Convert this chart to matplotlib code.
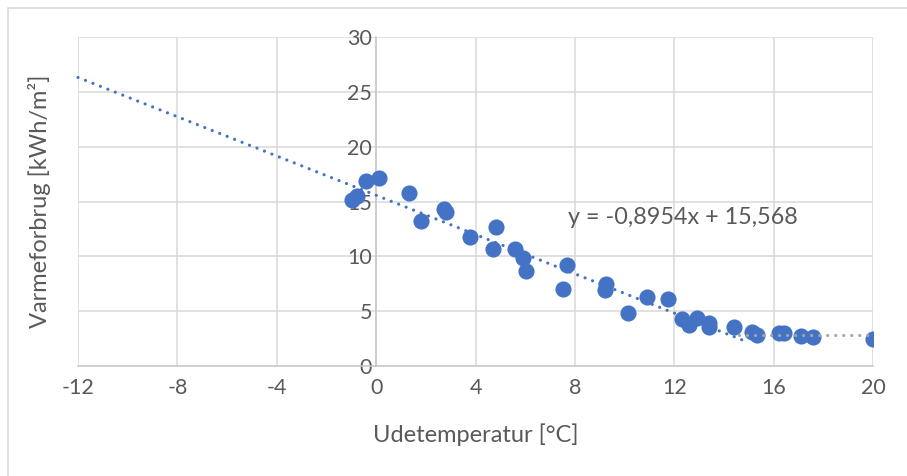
import matplotlib.pyplot as plt
from matplotlib.patches import Rectangle

# udetemperatur [C] og varmeforbrug [kWh/m2], aflaest fra figuren
temp = [-0.98, -0.76, -0.40, 0.12, 1.33, 1.81, 2.74, 2.82, 3.78, 4.82,
        4.71, 5.60, 5.91, 6.03, 7.69, 7.51, 9.25, 9.22, 10.14, 10.92,
        11.73, 12.31, 12.60, 12.90, 13.40, 13.40, 14.40, 15.12, 15.33,
        16.22, 16.42, 17.10, 17.60, 20.00]
varme = [15.1, 15.5, 16.9, 17.1, 15.8, 13.2, 14.3, 14.05, 11.8, 12.7,
         10.7, 10.67, 9.87, 8.69, 9.21, 7.0, 7.5, 6.9, 4.8, 6.26,
         6.08, 4.26, 3.73, 4.40, 3.94, 3.58, 3.6, 3.1, 2.8,
         3.0, 3.0, 2.73, 2.64, 2.43]

# lineaer trendlinie
slope = -0.8954
intercept = 15.568
trend_x = [-12, 15.0]

# graa trendlinie for de varme dage
warm_x = [14.6, 20]
warm_level = 2.8

xticks = [-12, -8, -4, 0, 4, 8, 12, 16, 20]
yticks = [0, 5, 10, 15, 20, 25, 30]

blue = '#4472C4'
grey_txt = '#595959'
grid_c = '#D9D9D9'

plt.rcParams['font.family'] = ['Lato', 'DejaVu Sans']
plt.rcParams['axes.unicode_minus'] = False

fig = plt.figure(figsize=(9.07, 4.76), dpi=100)
ax = fig.add_axes([78 / 907, 1 - 366 / 476, (873 - 78) / 907, (366 - 37) / 476])

# ramme om hele diagrammet
fig.patches.append(Rectangle((8 / 907, -0.1), 1.2, 1 - 8 / 476 + 0.1,
                             transform=fig.transFigure, fill=False,
                             edgecolor=grid_c, lw=1.2))

ax.set_xlim(-12, 20)
ax.set_ylim(0, 30)
ax.set_xticks(xticks)
ax.set_yticks(yticks)
ax.grid(True, color=grid_c, lw=1.1)
ax.set_axisbelow(True)

for s in ['top', 'right']:
    ax.spines[s].set_visible(False)
ax.spines['left'].set_position(('data', 0))
ax.spines['left'].set_color('#C8C8C8')
ax.spines['bottom'].set_color('#C8C8C8')
ax.spines['left'].set_linewidth(1.1)
ax.spines['bottom'].set_linewidth(1.1)

ax.tick_params(axis='both', length=0, labelsize=15.5, colors=grey_txt)
ax.tick_params(axis='x', pad=9)
ax.tick_params(axis='y', pad=3)

ax.scatter(temp, varme, s=135, color=blue, zorder=3, linewidths=0)

ty = [slope * x + intercept for x in trend_x]
ax.plot(trend_x, ty, color=blue, lw=2.3, linestyle=(0, (0.01, 2.5)),
        dash_capstyle='round', zorder=4, clip_on=False)
ax.plot(warm_x, [warm_level, warm_level], color='#A5A5A5', lw=2.3,
        linestyle=(0, (0.01, 2.5)), dash_capstyle='round', zorder=4)

ax.text(7.73, 13.5, 'y = -0,8954x + 15,568', fontsize=16.8, color=grey_txt,
        va='center', ha='left')

ax.set_xlabel('Udetemperatur [°C]', fontsize=17, color=grey_txt)
ax.set_ylabel('Varmeforbrug [kWh/m²]', fontsize=17, color=grey_txt)
ax.yaxis.set_label_coords(-0.034, 0.5)
ax.xaxis.set_label_coords(0.5, -0.175)

fig.savefig('out.png', dpi=100)
